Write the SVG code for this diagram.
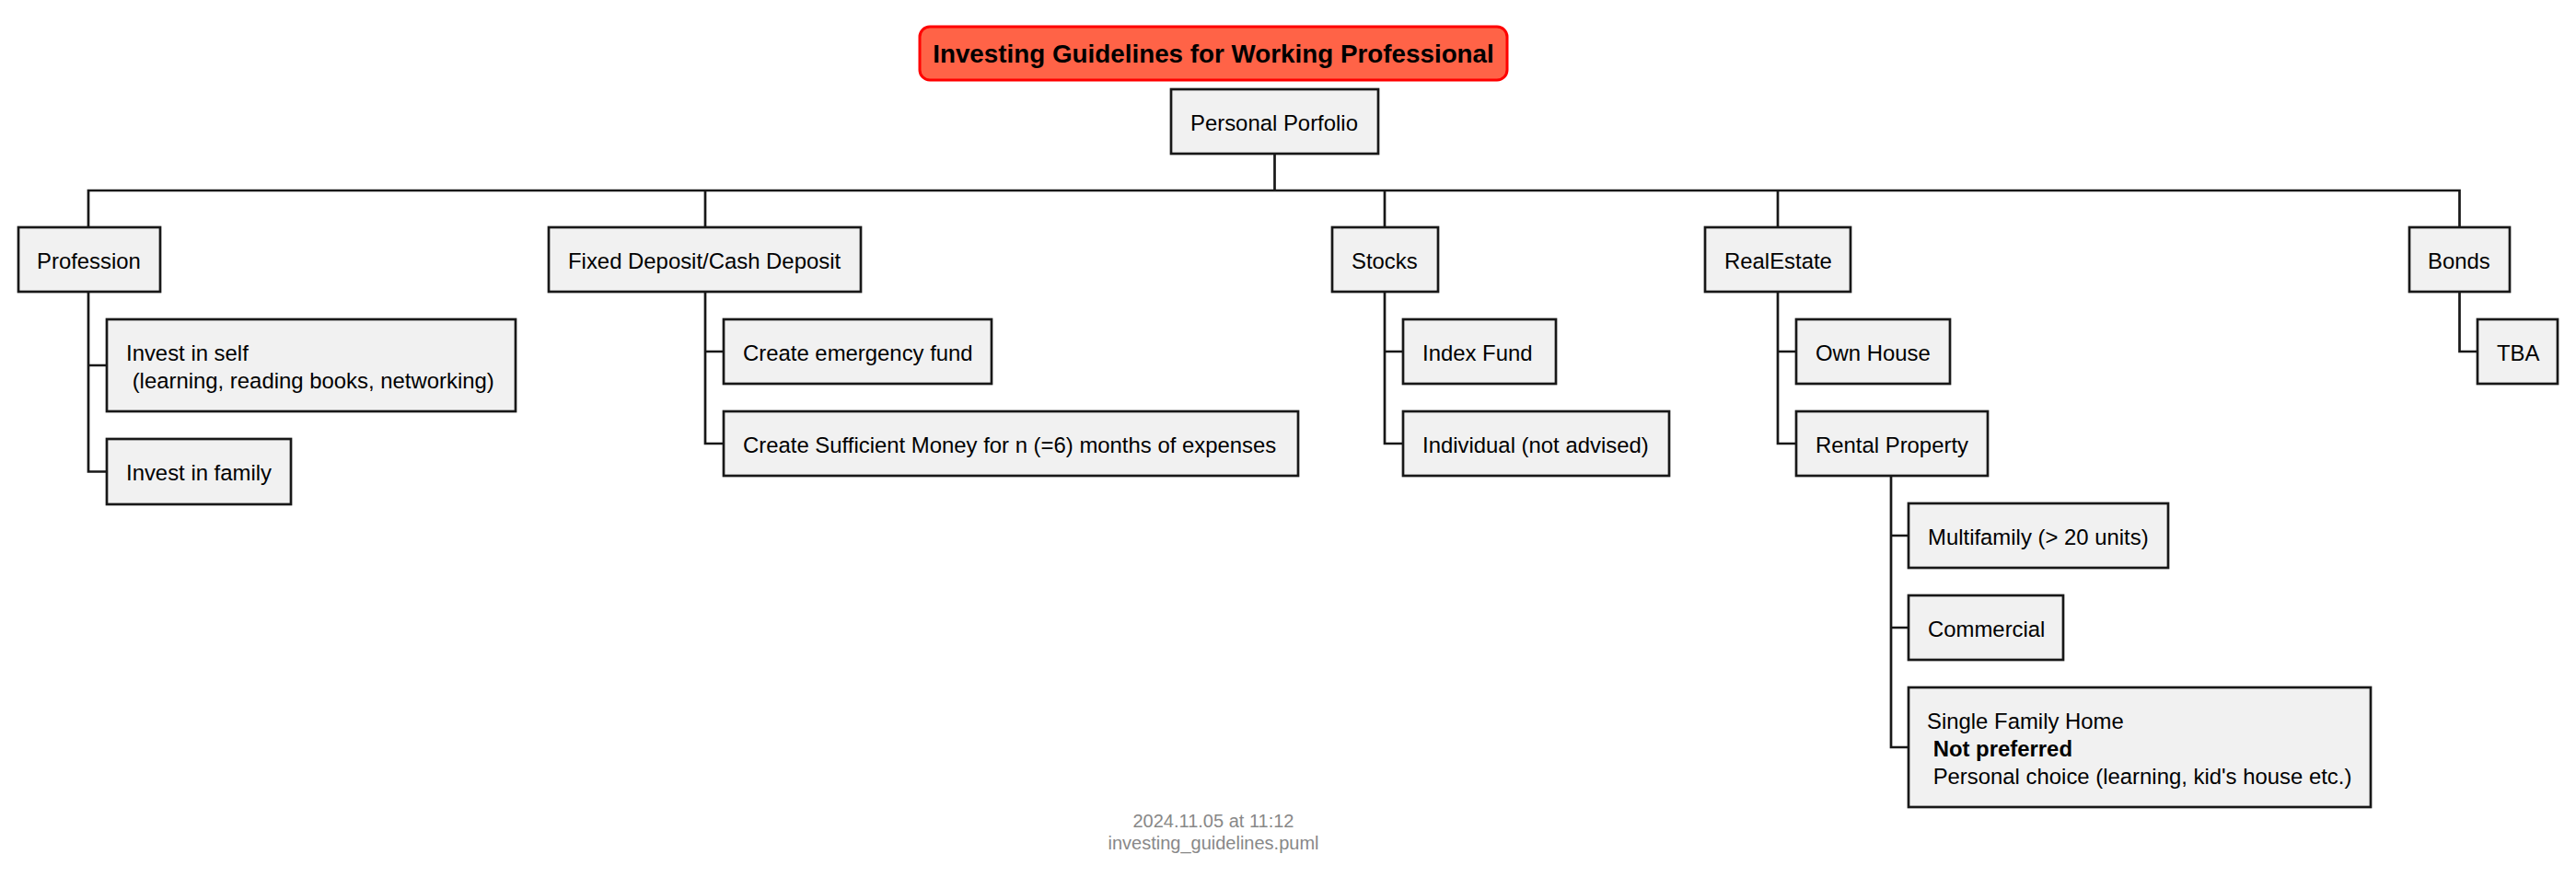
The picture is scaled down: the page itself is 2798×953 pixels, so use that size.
<svg xmlns="http://www.w3.org/2000/svg" width="2798" height="953" viewBox="0 0 2798 953">
<style>
  .bg { fill: #FFFFFF; }
  .node rect { fill: #F1F1F1; stroke: #181818; stroke-width: 2.7; }
  .node text { font-family: "Liberation Sans", Arial, sans-serif; font-size: 23.9px; fill: #000000; }
  .b { font-weight: bold; }
  #title rect { fill: #FF6347; stroke: #FF0000; stroke-width: 3; }
  #title text { font-family: "Liberation Sans", Arial, sans-serif; font-size: 27.8px; font-weight: bold; fill: #000000; text-anchor: middle; }
  .conn path { fill: none; stroke: #181818; stroke-width: 2.7; }
  .footer { font-family: "Liberation Sans", Arial, sans-serif; font-size: 20px; fill: #888888; text-anchor: middle; }
</style>
<rect class="bg" x="0" y="0" width="2798" height="953"/>

<g id="title">
  <rect x="999" y="29" width="638" height="58" rx="11" ry="11"/>
  <text x="1318" y="68">Investing Guidelines for Working Professional</text>
</g>

<g class="conn" id="connectors">
  <path d="M1384.5 167 V207 M96 247 V207 H2671.5 V247 M766 207 V247 M1504 207 V247 M1931 207 V247"/>
  <path d="M96 317 V512.5 H116 M96 397 H116"/>
  <path d="M766 317 V482 H786 M766 382 H786"/>
  <path d="M1504 317 V482 H1524 M1504 382 H1524"/>
  <path d="M1931 317 V482 H1951 M1931 382 H1951"/>
  <path d="M2054 517 V812 H2073 M2054 582 H2073 M2054 682 H2073"/>
  <path d="M2671.5 317 V382 H2691"/>
</g>

<g class="node" id="n-root">
  <rect x="1272" y="97" width="225" height="70"/>
  <text x="1293" y="142">Personal Porfolio</text>
</g>

<g class="node" id="n-profession">
  <rect x="20" y="247" width="154" height="70"/>
  <text x="40" y="292">Profession</text>
</g>
<g class="node" id="n-self">
  <rect x="116" y="347" width="444" height="100"/>
  <text x="137" y="392">Invest in self</text>
  <text x="137" y="422" xml:space="preserve"> (learning, reading books, networking)</text>
</g>
<g class="node" id="n-family">
  <rect x="116" y="477" width="200" height="71"/>
  <text x="137" y="522">Invest in family</text>
</g>

<g class="node" id="n-fd">
  <rect x="596" y="247" width="339" height="70"/>
  <text x="617" y="292">Fixed Deposit/Cash Deposit</text>
</g>
<g class="node" id="n-emergency">
  <rect x="786" y="347" width="291" height="70"/>
  <text x="807" y="392">Create emergency fund</text>
</g>
<g class="node" id="n-sufficient">
  <rect x="786" y="447" width="624" height="70"/>
  <text x="807" y="492">Create Sufficient Money for n (=6) months of expenses</text>
</g>

<g class="node" id="n-stocks">
  <rect x="1447" y="247" width="115" height="70"/>
  <text x="1468" y="292">Stocks</text>
</g>
<g class="node" id="n-index">
  <rect x="1524" y="347" width="166" height="70"/>
  <text x="1545" y="392">Index Fund</text>
</g>
<g class="node" id="n-individual">
  <rect x="1524" y="447" width="289" height="70"/>
  <text x="1545" y="492">Individual (not advised)</text>
</g>

<g class="node" id="n-realestate">
  <rect x="1852" y="247" width="158" height="70"/>
  <text x="1873" y="292">RealEstate</text>
</g>
<g class="node" id="n-ownhouse">
  <rect x="1951" y="347" width="167" height="70"/>
  <text x="1972" y="392">Own House</text>
</g>
<g class="node" id="n-rental">
  <rect x="1951" y="447" width="208" height="70"/>
  <text x="1972" y="492">Rental Property</text>
</g>
<g class="node" id="n-multifamily">
  <rect x="2073" y="547" width="282" height="70"/>
  <text x="2094" y="592">Multifamily (&gt; 20 units)</text>
</g>
<g class="node" id="n-commercial">
  <rect x="2073" y="647" width="168" height="70"/>
  <text x="2094" y="692">Commercial</text>
</g>
<g class="node" id="n-sfh">
  <rect x="2073" y="747" width="502" height="130"/>
  <text x="2093" y="792">Single Family Home</text>
  <text x="2093" y="822" class="b" xml:space="preserve"> Not preferred</text>
  <text x="2093" y="852" xml:space="preserve"> Personal choice (learning, kid's house etc.)</text>
</g>

<g class="node" id="n-bonds">
  <rect x="2617" y="247" width="109" height="70"/>
  <text x="2637" y="292">Bonds</text>
</g>
<g class="node" id="n-tba">
  <rect x="2691" y="347" width="87" height="70"/>
  <text x="2712" y="392">TBA</text>
</g>

<g id="footer">
  <text class="footer" x="1318" y="899">2024.11.05 at 11:12</text>
  <text class="footer" x="1318" y="923">investing_guidelines.puml</text>
</g>
</svg>
